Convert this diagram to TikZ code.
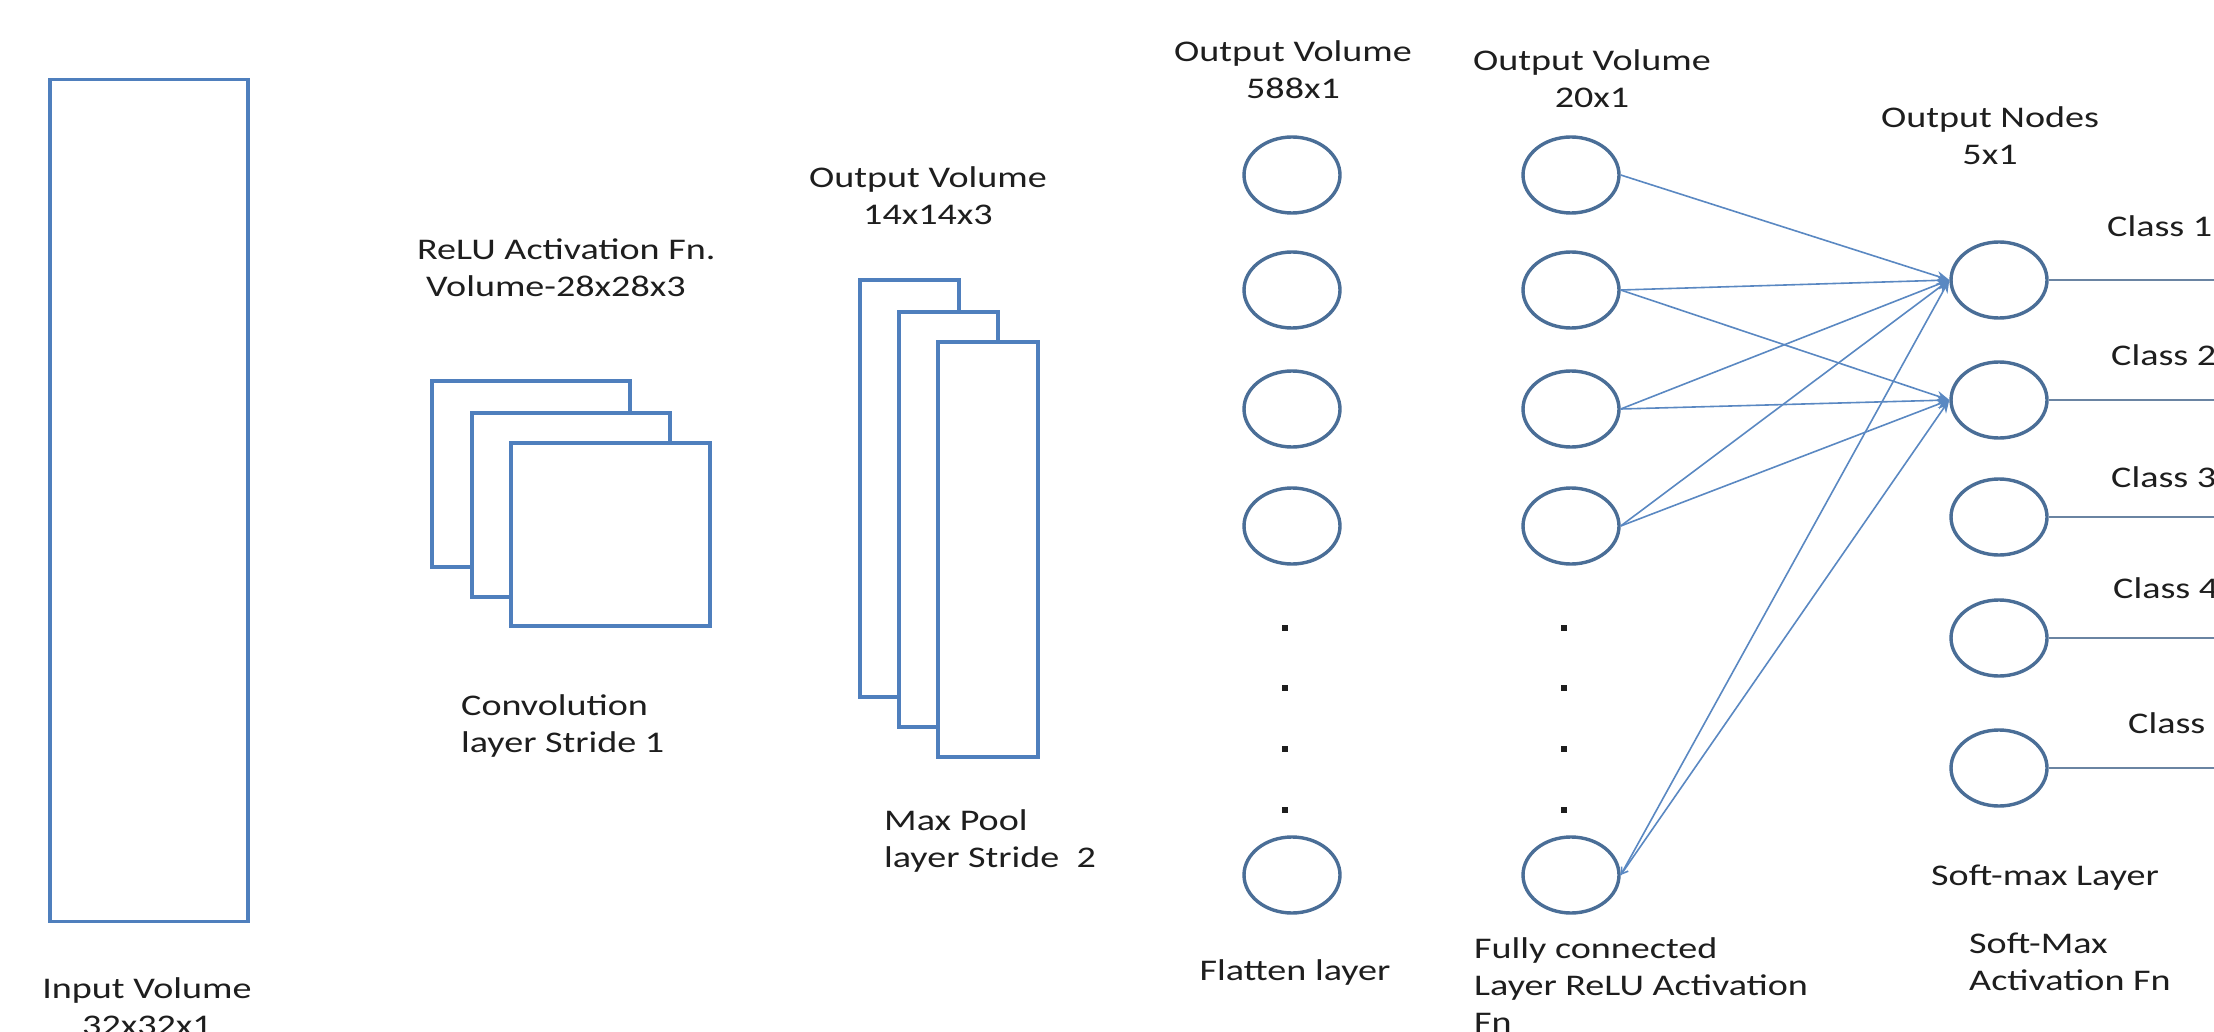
\documentclass[tikz,border=0pt]{standalone}
\usepackage{fontspec}
\setmainfont{Carlito}[FakeStretch=1.27]
\usetikzlibrary{arrows.meta,shapes.geometric}
\definecolor{boxblue}{HTML}{4F7FBD}
\definecolor{ringblue}{HTML}{4A6E97}
\definecolor{wireblue}{HTML}{5A88C2}
\definecolor{outline}{HTML}{6A84A2}
\definecolor{ink}{HTML}{1E1E1E}

\begin{document}
\begin{tikzpicture}[x=1pt,y=-1pt,
  layerbox/.style={draw=boxblue, line width=3.4pt, fill=white, inner sep=0pt},
  neuron/.style={draw=ringblue, line width=3.4pt, ellipse, fill=white,
    minimum width=96pt, minimum height=76pt, inner sep=0pt},
  gapdot/.style={fill=ink, minimum size=6pt, inner sep=0pt, rectangle},
  wire/.style={draw=wireblue, line width=1.6pt, -{Stealth[length=13pt,width=10pt]}},
  classline/.style={draw=outline, line width=2pt},
  caption/.style={text=ink, inner sep=0pt, font=\fontsize{30}{37}\selectfont},
]
\useasboundingbox (0,0) rectangle (2214,1032);
\clip (0,0) rectangle (2214,1032);
\fill[white] (0,0) rectangle (2214,1032);

% input volume (multi-line captions are anchored on their last baseline)
\node[layerbox, minimum width=198pt, minimum height=842pt] (input) at (149,500.5) {};
\node[caption, align=center, anchor=base] (inlbl) at (147,1035) {Input Volume\\32x32x1};

% convolution stack (back to front)
\node[layerbox, minimum width=198pt, minimum height=186pt] (c1) at (531,474) {};
\node[layerbox, minimum width=198pt, minimum height=184pt] (c2) at (571,505) {};
\node[layerbox, minimum width=199pt, minimum height=183pt] (c3) at (610.5,534.5) {};
\node[caption, align=left, anchor=base west] (relu) at (417,297) {ReLU Activation Fn.\\\hspace*{9pt}Volume-28x28x3};
\node[caption, align=left, anchor=base west] (convlbl) at (461,752) {Convolution\\layer Stride 1};

% max pool stack (back to front)
\node[layerbox, minimum width=99pt, minimum height=417pt] (p1) at (909.5,488.5) {};
\node[layerbox, minimum width=99pt, minimum height=415pt] (p2) at (948.5,519.5) {};
\node[layerbox, minimum width=100pt, minimum height=415pt] (p3) at (988,549.5) {};
\node[caption, align=center, anchor=base] (poolvol) at (928,225) {Output Volume\\14x14x3};
\node[caption, align=left, anchor=base west] (poollbl) at (884,867) {Max Pool\\layer Stride~~2};

% flatten layer
\foreach \i/\y in {1/175, 2/290, 3/409, 4/526, 5/875}
  \node[neuron] (f\i) at (1292,\y) {};
\foreach \i/\y in {1/628, 2/688, 3/749, 4/810}
  \node[gapdot] (fd\i) at (1285,\y) {};
\node[caption, align=center, anchor=base] (flatvol) at (1293,99) {Output Volume\\588x1};
\node[caption, anchor=base] (flatlbl) at (1295,980) {Flatten layer};

% fully connected layer
\foreach \i/\y in {1/175, 2/290, 3/409, 4/526, 5/875}
  \node[neuron] (h\i) at (1571,\y) {};
\foreach \i/\y in {1/628, 2/688, 3/749, 4/810}
  \node[gapdot] (hd\i) at (1564,\y) {};
\node[caption, align=center, anchor=base] (fcvol) at (1592,108) {Output Volume\\20x1};
\node[caption, align=left, anchor=base west] (fclbl) at (1474,1032) {Fully connected\\Layer ReLU Activation\\Fn};

% output nodes
\foreach \i/\y in {1/280, 2/400, 3/517, 4/638, 5/768}
  \node[neuron] (o\i) at (1999,\y) {};
\node[caption, align=center, anchor=base] (outvol) at (1990,165) {Output Nodes\\5x1};
\node[caption, anchor=base west] (smlayer) at (1931,885) {Soft-max Layer};
\node[caption, align=left, anchor=base west] (smfn) at (1969,990) {Soft-Max\\Activation Fn};

% class outputs
\foreach \i/\y in {1/280, 2/400, 3/517, 4/638, 5/768} {
  \coordinate (r\i) at (2220,\y);
  \draw[classline] (o\i.east) -- (r\i);
}
\node[caption, anchor=base west] (k1) at (2107,237) {Class 1};
\node[caption, anchor=base west] (k2) at (2111,365) {Class 2};
\node[caption, anchor=base west] (k3) at (2111,487) {Class 3};
\node[caption, anchor=base west] (k4) at (2113,598) {Class 4};
\node[caption, anchor=base west] (k5) at (2128,733) {Class 5};

% connections into the soft-max nodes
\draw[wire] (h1.east) -- (o1.west);
\draw[wire] (h2.east) -- (o1.west);
\draw[wire] (h2.east) -- (o2.west);
\draw[wire] (h3.east) -- (o1.west);
\draw[wire] (h3.east) -- (o2.west);
\draw[wire] (h4.east) -- (o1.west);
\draw[wire] (h4.east) -- (o2.west);
\draw[wire] (h5.east) -- (o1.west);
\draw[wire, {Straight Barb[length=6pt,width=8pt]}-{Stealth[length=13pt,width=10pt]}] (h5.east) -- (o2.west);
\end{tikzpicture}
\end{document}
